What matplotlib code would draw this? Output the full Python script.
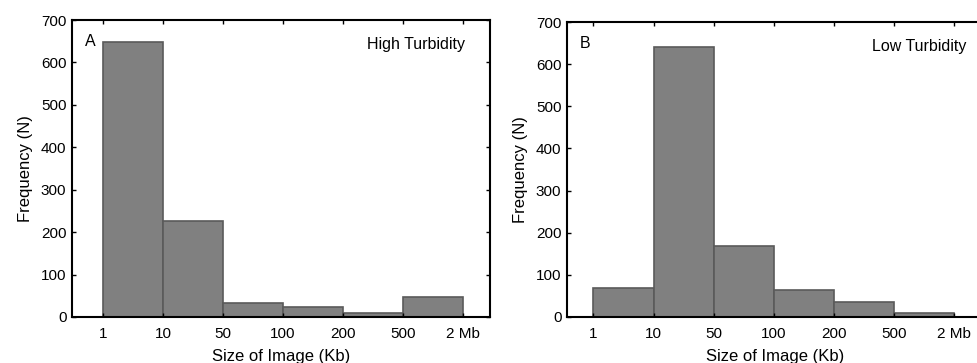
import matplotlib
matplotlib.use("Agg")
import matplotlib.pyplot as plt
import numpy as np

plt.rcParams['font.family'] = ['Liberation Sans', 'DejaVu Sans']

bin_labels = ["1", "10", "50", "100", "200", "500", "2 Mb"]
high_turbidity = [648, 227, 34, 23, 10, 47]
low_turbidity = [68, 640, 169, 64, 35, 10]

fig = plt.figure(figsize=(9.78, 3.63), dpi=100)
axA = fig.add_axes([72/978, 1-317/363, (490-72)/978, (317-20)/363])
axB = fig.add_axes([567/978, 1-317/363, (984-567)/978, (317-22)/363])

edges = np.arange(len(bin_labels))

def draw(ax, vals, letter, title, xlim, right=True):
    ax.bar(edges[:-1], vals, width=1.0, align='edge', color='#808080',
           edgecolor='#5a5a5a', linewidth=1.2)
    ax.set_xlim(*xlim)
    ax.set_ylim(0, 700)
    ax.set_xticks(edges)
    ax.set_xticklabels(bin_labels)
    ax.set_yticks(np.arange(0, 701, 100))
    ax.tick_params(direction='in', top=True, right=right, length=3, width=1,
                   labelsize=11, colors='black')
    ax.tick_params(axis='x', pad=7)
    ax.tick_params(axis='y', pad=4)
    for s in ax.spines.values():
        s.set_linewidth(1.5)
    ax.set_xlabel("Size of Image (Kb)", fontsize=12, labelpad=6)
    ax.set_ylabel("Frequency (N)", fontsize=12, labelpad=6)
    ax.text(0.03, 0.926, letter, transform=ax.transAxes, fontsize=11.5, va='center', ha='left')
    return ax.text(0.94, 0.916, title, transform=ax.transAxes, fontsize=11.5, va='center', ha='right')

draw(axA, high_turbidity, "A", "High Turbidity", (-0.52, 6.45))
t = draw(axB, low_turbidity, "B", "Low Turbidity", (-0.44, 6.5), right=False)
t.set_position((0.958, 0.916))

fig.savefig("out.png", dpi=100)
